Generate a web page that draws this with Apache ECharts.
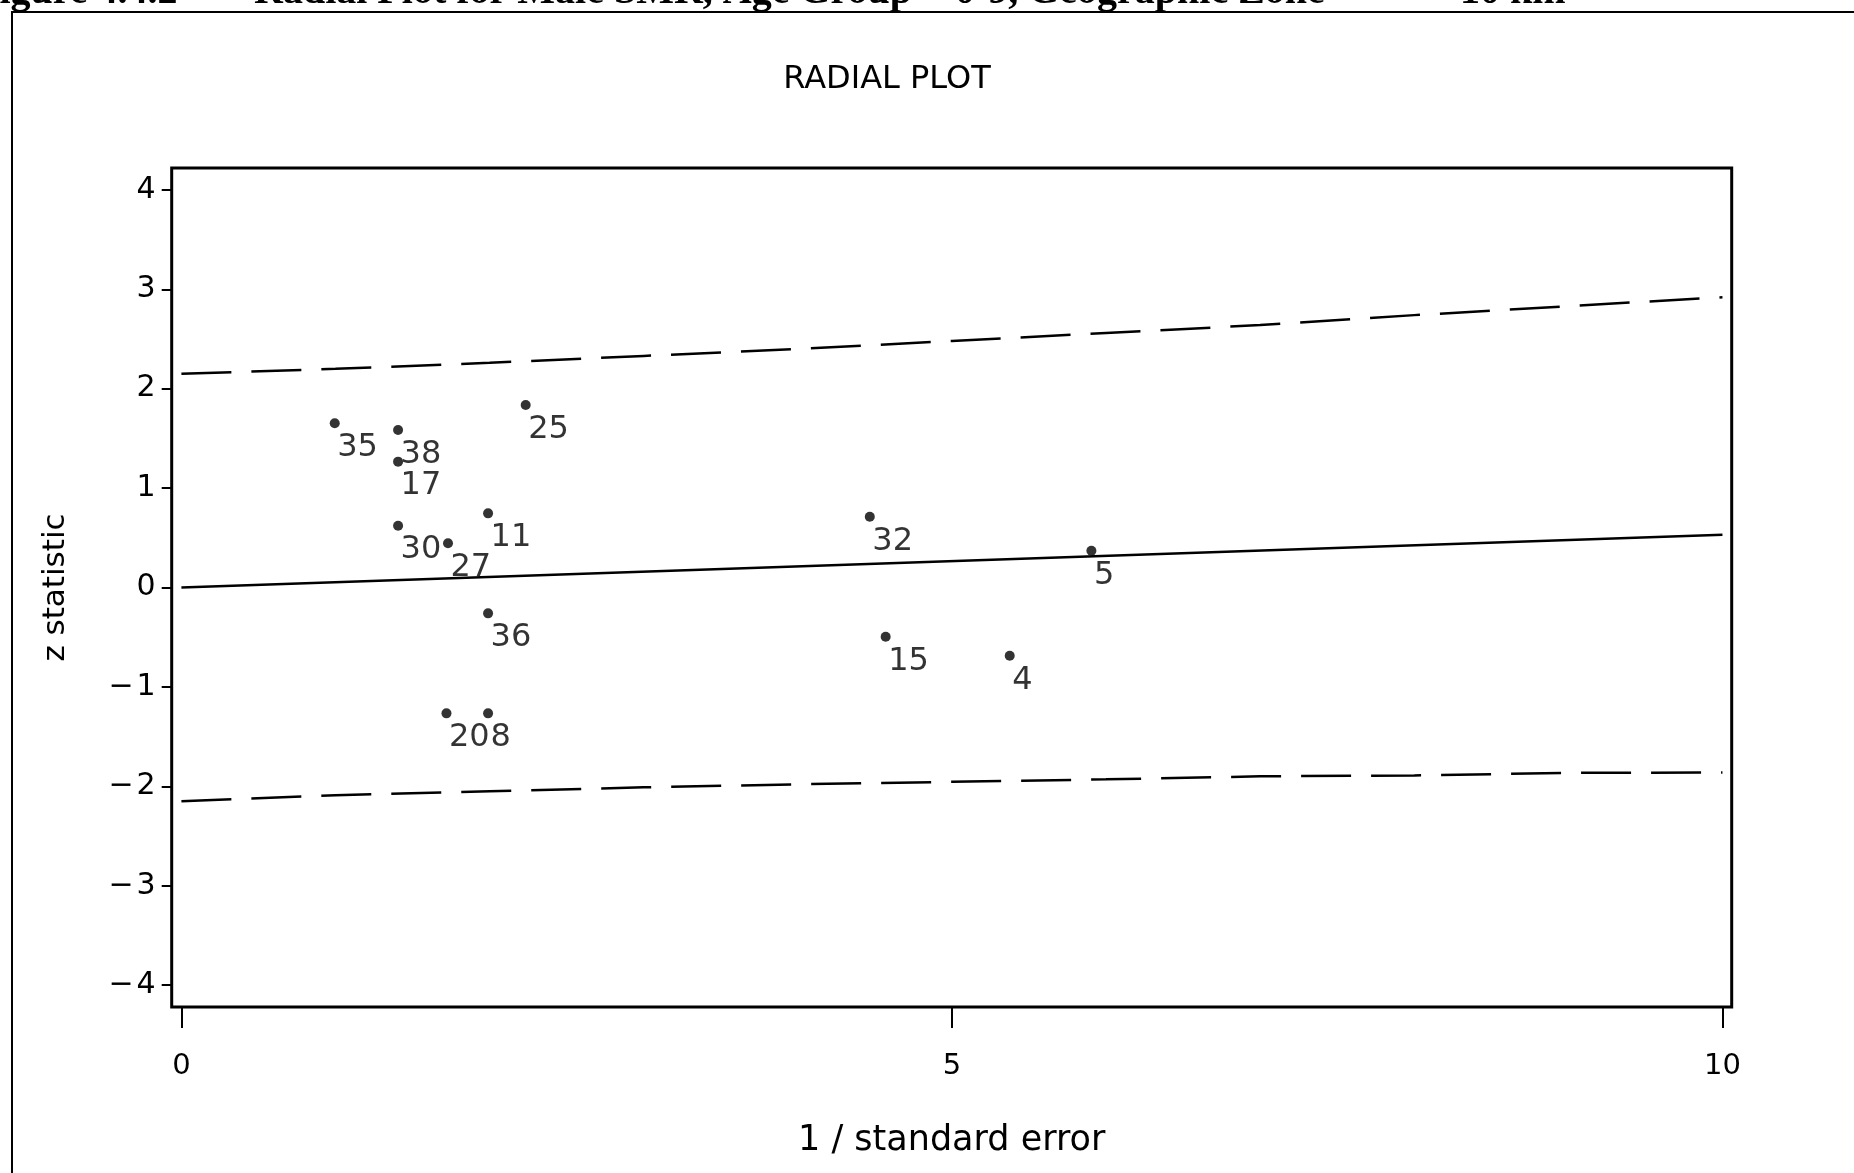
<!DOCTYPE html>
<html><head><meta charset="utf-8">
<script src="https://cdn.jsdelivr.net/npm/echarts@6/dist/echarts.min.js"></script>
<style>html,body{margin:0;padding:0;background:#fff;overflow:hidden}#c{width:1854px;height:1173px}</style>
</head><body><div id="c"></div>
<script>
// point identifiers and values
const pointIds = ['35','38','17','25','11','30','27','36','20','8','32','5','15','4'];
const invSE    = [0.995, 1.406, 1.406, 2.234, 1.990, 1.406, 1.730, 1.990, 1.720, 1.990, 4.467, 5.905, 4.570, 5.375];
const zStat    = [1.652, 1.585, 1.266, 1.836, 0.746, 0.622, 0.445, -0.260, -1.266, -1.266, 0.712, 0.370, -0.495, -0.686];

// reference lines
const lineX      = [0, 1, 2, 3, 4, 5, 6, 7, 8, 9, 10];
const upperLimit = [2.15, 2.20, 2.26, 2.33, 2.40, 2.48, 2.56, 2.64, 2.74, 2.83, 2.92];
const lowerLimit = [-2.15, -2.09, -2.05, -2.01, -1.98, -1.955, -1.93, -1.90, -1.89, -1.865, -1.86];
const centerX    = [0, 10];
const centerZ    = [0, 0.53];

// tick labels
const xTicks = [0, 5, 10];
const yTicks = [-4, -3, -2, -1, 0, 1, 2, 3, 4];

const chart = echarts.init(document.getElementById('c'), null, {renderer: 'canvas'});
const F = '"DejaVu Sans", sans-serif';
const HF = 'bold 40px "Liberation Serif", serif';

const option = {
  animation: false,
  backgroundColor: '#fff',
  grid: {
    left: 171.7, top: 168, width: 1560, height: 839,
    show: true, borderColor: '#000', borderWidth: 3, backgroundColor: 'transparent',
    containLabel: false, outerBoundsMode: 'none'
  },
  xAxis: {
    type: 'value', min: -0.063, max: 10.06,
    name: '1 / standard error', nameLocation: 'middle', nameGap: 116,
    nameTextStyle: {fontFamily: F, fontSize: 35, color: '#000'},
    axisLine: {show: false, onZero: false},
    axisTick: {show: true, inside: false, customValues: xTicks, length: 21, lineStyle: {color: '#000', width: 2}},
    axisLabel: {customValues: xTicks, margin: 45, fontFamily: F, fontSize: 29, color: '#000'},
    splitLine: {show: false}
  },
  yAxis: {
    type: 'value', min: -4.22, max: 4.22,
    name: 'z statistic', nameLocation: 'middle', nameGap: 100, nameRotate: 90,
    nameTextStyle: {fontFamily: F, fontSize: 31, color: '#000'},
    axisLine: {show: false, onZero: false},
    axisTick: {show: true, inside: false, customValues: yTicks, length: 10, lineStyle: {color: '#000', width: 2}},
    axisLabel: {
      customValues: yTicks, margin: 16, fontFamily: F, fontSize: 30, color: '#000',
      formatter: v => v < 0 ? '\u2212\u200A' + Math.abs(v) : String(v)
    },
    splitLine: {show: false}
  },
  graphic: [
    {type: 'rect', shape: {x: 12, y: 12, width: 1900, height: 1300}, style: {fill: 'none', stroke: '#000', lineWidth: 2}, silent: true},
    {type: 'text', x: 887, y: 80, style: {text: 'RADIAL PLOT', font: '32px ' + F, fill: '#000', align: 'center', verticalAlign: 'middle'}},
    {type: 'text', x: -25, y: 13, style: {text: 'Figure 4.4.2', font: HF, fill: '#000', align: 'left', verticalAlign: 'bottom'}},
    {type: 'text', x: 254, y: 13, style: {text: 'Radial Plot for Male SMR, Age Group = 0-9, Geographic Zone', font: HF, fill: '#000', align: 'left', verticalAlign: 'bottom'}},
    {type: 'text', x: 1460, y: 13, style: {text: '10 km', font: HF, fill: '#000', align: 'left', verticalAlign: 'bottom'}}
  ],
  series: [
    {
      type: 'line', data: lineX.map((x, i) => [x, upperLimit[i]]), showSymbol: false, symbol: 'none',
      lineStyle: {color: '#000', width: 2.5, type: [50, 20]}, silent: true, z: 2
    },
    {
      type: 'line', data: lineX.map((x, i) => [x, lowerLimit[i]]), showSymbol: false, symbol: 'none',
      lineStyle: {color: '#000', width: 2.5, type: [50, 20]}, silent: true, z: 2
    },
    {
      type: 'line', data: centerX.map((x, i) => [x, centerZ[i]]), showSymbol: false, symbol: 'none',
      lineStyle: {color: '#000', width: 2.5, type: 'solid'}, silent: true, z: 2
    },
    {
      type: 'scatter', data: invSE.map((x, i) => [x, zStat[i], pointIds[i]]),
      symbol: 'circle', symbolSize: 10, itemStyle: {color: '#000'}, z: 3,
      label: {
        show: true, position: [7.5, 13.5], formatter: p => p.data[2],
        fontFamily: F, fontSize: 32, color: '#000'
      },
      labelLayout: {hideOverlap: false}
    }
  ]
};
chart.setOption(option);
</script>
</body></html>
